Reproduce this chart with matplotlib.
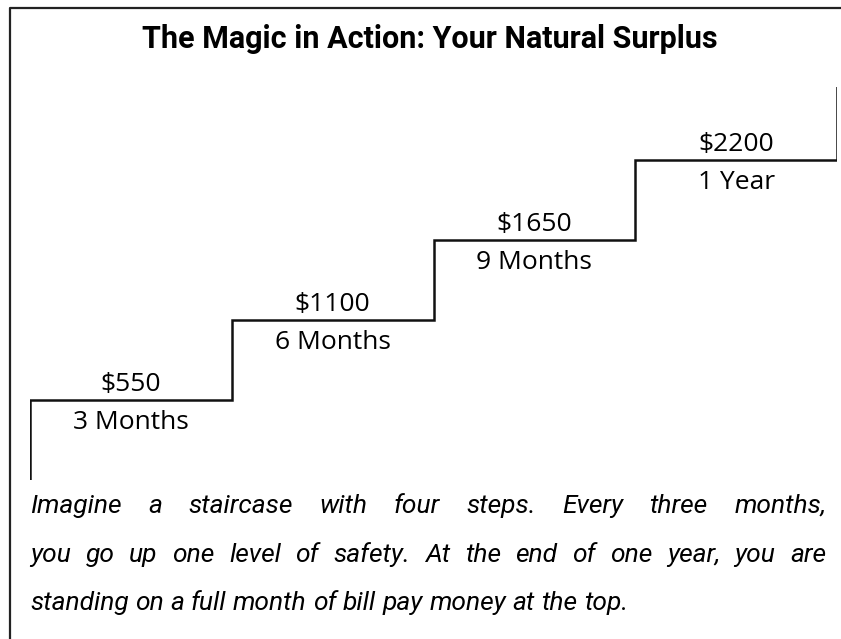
import matplotlib
matplotlib.use('Agg')
import matplotlib.pyplot as plt
from matplotlib.lines import Line2D

# staircase data
amounts = [550, 1100, 1650, 2200]
periods = ['3 Months', '6 Months', '9 Months', '1 Year']
amount_labels = ['$550', '$1100', '$1650', '$2200']
title = 'The Magic in Action: Your Natural Surplus'
caption_lines = [
    'Imagine a staircase with four steps. Every three months,',
    'you go up one level of safety. At the end of one year, you are',
    'standing on a full month of bill pay money at the top.',
]

W, H = 841, 639
fig = plt.figure(figsize=(W / 100, H / 100), dpi=100)


def px(x, y):
    return x / W, 1 - y / H


# outer frame (left and top edges)
fig.add_artist(Line2D([10 / W, 10 / W, 1], [0, 1 - 8 / H, 1 - 8 / H],
                      transform=fig.transFigure, color='#222222', lw=1.6))

fig.text(*px(430, 48), title, ha='center', va='baseline', fontsize=22,
         fontweight='bold', family='Roboto', color='black')

# staircase axes: x 30..837 px, y 87..480 px
l, b = px(30, 480)
r, t = px(837, 87)
ax = fig.add_axes([l, b, r - l, t - b])
n = len(amounts)
xs = [0]
ys = [0]
for i, v in enumerate(amounts):
    xs += [i, i + 1]
    ys += [v, v]
xs.append(n)
ys.append(2700)
ax.plot(xs, ys, color='#111111', lw=1.8, solid_joinstyle='miter')
ax.set_xlim(0, n)
ax.set_ylim(0, 2700)
ax.axis('off')

for i, v in enumerate(amounts):
    ax.annotate(amount_labels[i], (i + 0.5, v), xytext=(0, 6.5),
                textcoords='offset points', ha='center', va='baseline',
                fontsize=19, family='Open Sans')
    ax.annotate(periods[i], (i + 0.5, v), xytext=(0, -21),
                textcoords='offset points', ha='center', va='baseline',
                fontsize=19, family='Open Sans')

# justified italic caption
renderer = fig.canvas.get_renderer()
x0, x1 = 30, 826
line_y = [513, 562, 610]
fs = 19
for k, line in enumerate(caption_lines):
    words = line.split(' ')
    arts = [fig.text(0, 0, w, fontsize=fs, style='italic', family='Roboto',
                     va='baseline', ha='left') for w in words]
    widths = [a.get_window_extent(renderer).width for a in arts]
    if k < len(caption_lines) - 1:
        gap = (x1 - x0 - sum(widths)) / (len(words) - 1)
    else:
        sp = fig.text(0, 0, 'a a', fontsize=fs, style='italic', family='Roboto')
        sp2 = fig.text(0, 0, 'aa', fontsize=fs, style='italic', family='Roboto')
        gap = sp.get_window_extent(renderer).width - sp2.get_window_extent(renderer).width
        sp.remove()
        sp2.remove()
    x = x0
    for a, w in zip(arts, widths):
        a.set_position(px(x, line_y[k]))
        x += w + gap

fig.savefig('out.png', dpi=100)
